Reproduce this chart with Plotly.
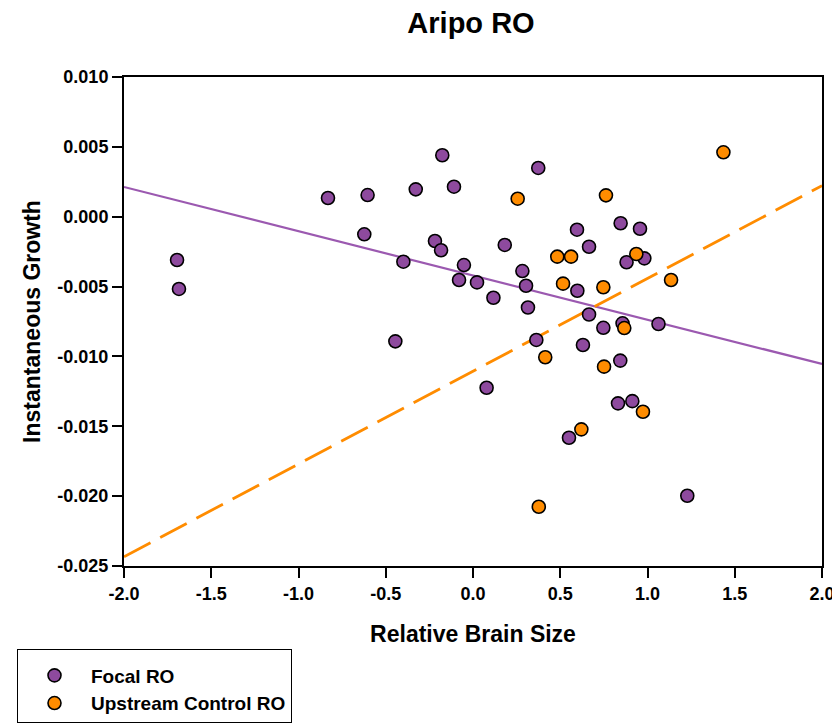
import plotly.graph_objects as go

# ---- data ----
focal_x = [-1.696, -1.685, -0.831, -0.604, -0.623, -0.399, -0.328, -0.176, -0.109, -0.218,
           -0.183, -0.052, -0.080, 0.023, 0.374, 0.182, 0.596, 0.846, 0.957, 0.665,
           0.880, 0.982, 0.283, 0.304, 0.598, 0.117, 0.315, 0.665, 0.747, 0.857,
           1.063, 0.363, 0.630, 0.844, 0.078, 0.831, 0.913, 0.550, 1.228, -0.445]
focal_y = [-0.0031, -0.00517, 0.00134, 0.00155, -0.00126, -0.00322, 0.00196, 0.0044, 0.00215, -0.00174,
           -0.0024, -0.00346, -0.00453, -0.0047, 0.00349, -0.00202, -0.00093, -0.00047, -0.00086, -0.00215,
           -0.00326, -0.00298, -0.00389, -0.00494, -0.0053, -0.0058, -0.0065, -0.0070, -0.00795, -0.00763,
           -0.00768, -0.00882, -0.00918, -0.0103, -0.01224, -0.01336, -0.0132, -0.01582, -0.01997, -0.00892]

upstream_x = [1.435, 0.256, 0.762, 0.483, 0.562, 0.936, 0.516, 0.747, 1.135, 0.867,
              0.414, 0.751, 0.974, 0.621, 0.377]
upstream_y = [0.00461, 0.00129, 0.00153, -0.00286, -0.00286, -0.00267, -0.00479, -0.00505, -0.00453, -0.00797,
              -0.01006, -0.01073, -0.01396, -0.01522, -0.02076]

# regression line end points
fit_x = [-2.0, 2.0]
focal_fit_y = [0.00213, -0.01054]
upstream_fit_y = [-0.02434, 0.00222]

x_tickvals = [-2.0, -1.5, -1.0, -0.5, 0.0, 0.5, 1.0, 1.5, 2.0]
x_ticktext = ["-2.0", "-1.5", "-1.0", "-0.5", "0.0", "0.5", "1.0", "1.5", "2.0"]
y_tickvals = [0.010, 0.005, 0.000, -0.005, -0.010, -0.015, -0.020, -0.025]
y_ticktext = ["0.010", "0.005", "0.000", "-0.005", "-0.010", "-0.015", "-0.020", "-0.025"]

PURPLE = "#8E4A9E"
PURPLE_LINE = "#9B59B0"
ORANGE = "#FF8C00"
FONT = "Liberation Sans, Arial, sans-serif"

# page body adds an 8px offset; figure size and coordinates compensate for it
W, H = 832, 719
L, R, T, B = 116, 18, 69, 161
PW, PH = W - L - R, H - T - B

fig = go.Figure()

fig.add_trace(go.Scatter(x=fit_x, y=focal_fit_y, mode="lines",
                         line=dict(color=PURPLE_LINE, width=2.2), showlegend=False, hoverinfo="skip"))
fig.add_trace(go.Scatter(x=fit_x, y=upstream_fit_y, mode="lines",
                         line=dict(color=ORANGE, width=2.8, dash="30px,11px"), showlegend=False, hoverinfo="skip"))

fig.add_trace(go.Scatter(x=focal_x, y=focal_y, mode="markers", name="Focal RO",
                         marker=dict(color=PURPLE, size=13, line=dict(color="black", width=1.6))))
fig.add_trace(go.Scatter(x=upstream_x, y=upstream_y, mode="markers", name="Upstream Control RO",
                         marker=dict(color=ORANGE, size=13, line=dict(color="black", width=1.6))))

fig.update_layout(
    width=W, height=H,
    paper_bgcolor="white", plot_bgcolor="white",
    margin=dict(l=L, r=R, t=T, b=B, autoexpand=False),
    font=dict(family=FONT, color="black"),
    title=dict(text="<b>Aripo RO</b>", x=463 / W, xanchor="center", y=1 - 5 / H, yanchor="top",
               xref="container", yref="container", pad=dict(t=0, b=0),
               font=dict(size=29, family=FONT, color="black")),
    legend=dict(
        x=(9 - L) / PW, y=(H - B - 641) / PH, xanchor="left", yanchor="top",
        bordercolor="black", borderwidth=1, bgcolor="white",
        font=dict(size=19, family=FONT, color="black", weight="bold"),
        title=dict(text="&nbsp;", font=dict(size=5)),
        itemwidth=63,
        entrywidth=318, entrywidthmode="pixels",
        tracegroupgap=0,
    ),
)

fig.update_xaxes(
    range=[-2.0, 2.0], tickvals=x_tickvals, ticktext=x_ticktext,
    showgrid=False, zeroline=False,
    showline=True, linecolor="black", linewidth=2, mirror=True,
    ticks="outside", ticklen=10, tickwidth=1.5, tickcolor="black",
    tickfont=dict(size=18, family=FONT, color="black", weight="bold"),
    title=dict(text="<b>Relative Brain Size</b>", font=dict(size=23, family=FONT, color="black"), standoff=23),
)
fig.update_yaxes(
    range=[-0.025, 0.010], tickvals=y_tickvals, ticktext=y_ticktext,
    showgrid=False, zeroline=False,
    showline=True, linecolor="black", linewidth=2, mirror=True,
    ticks="outside", ticklen=10, tickwidth=1.5, tickcolor="black",
    tickfont=dict(size=18, family=FONT, color="black", weight="bold"),
    title=dict(text="<b>Instantaneous Growth</b>", font=dict(size=23, family=FONT, color="black"), standoff=10),
)

fig.write_html("out.html")
